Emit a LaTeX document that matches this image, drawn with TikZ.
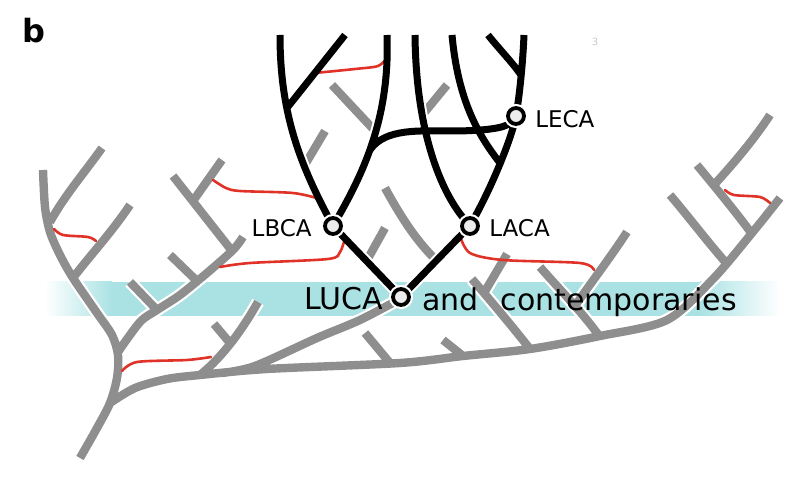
\documentclass[tikz,border=0pt]{standalone}
\usepackage{fontspec}
\setmainfont{DejaVu Sans}
\usepackage{tikz}
\usetikzlibrary{
  positioning,
  backgrounds
}
\definecolor{graycolor}{RGB}{142, 142, 142}
\definecolor{transfercolor}{RGB}{225, 50, 40}
\definecolor{bandcolor}{RGB}{170, 226, 228}
\definecolor{nodefillcolor}{RGB}{236, 236, 236}
\definecolor{labelcolor}{RGB}{0, 0, 0}
\definecolor{faintcolor}{RGB}{200, 200, 200}
\tikzset{
grayline/.style={
  draw=graycolor,
  line width=4.2pt
},
grayhalo/.style={
  draw=white,
  line width=6.4pt
},
blackline/.style={
  draw=black,
  line width=3.5pt
},
blackhalo/.style={
  draw=white,
  line width=5.5pt
},
transferline/.style={
  draw=transfercolor,
  line width=1.3pt,
  line cap=round
},
ancestornode/.style={
  circle,
  draw=black,
  line width=1.9pt,
  fill=nodefillcolor,
  minimum size=8pt,
  inner sep=0pt,
  preaction={draw=white, line width=4pt}
},
ancestorlabel/.style={
  font=\fontsize{11.5}{13}\selectfont,
  text=labelcolor,
  inner sep=1pt
},
bandlabel/.style={
  font=\fontsize{15}{18}\selectfont,
  text=labelcolor,
  inner sep=1pt
},
panellabel/.style={
  font=\fontsize{16}{19}\selectfont\bfseries,
  text=labelcolor
}
}
% gray tree (ancient lineages)
\newcommand{\graytree}{
  plot[smooth] coordinates {(43,170) (45,207) (50,232) (60,255) (73,278) (97,313) (112,335) (118,355) (117,378) (110,403) (97,428) (80,458)}
  (50,222) .. controls (65,195) and (85,172) .. (102,148)
  (73,278) .. controls (88,258) and (112,232) .. (130,205)
  plot[smooth] coordinates {(110,403) (135,388) (167,379) (200,375) (267,369) (400,363) (463,356) (530,349) (600,336) (667,320) (713,279) (752,233) (780,198)}
  (200,375) .. controls (225,355) and (245,325) .. (258,302)
  (230,343) -- (214,324)
  plot[smooth] coordinates {(222,373) (255,366) (317,338) (360,320) (398,300)}
  (390,363) -- (365,333)
  (463,356) -- (443,340)
  (530,349) .. controls (512,326) and (490,300) .. (472,279)
  (484,293) -- (507,254)
  (600,337) .. controls (582,312) and (560,290) .. (540,267)
  (575,306) .. controls (590,284) and (610,258) .. (627,232)
  (727,264) .. controls (706,240) and (688,216) .. (670,195)
  (752,234) .. controls (735,211) and (716,188) .. (697,165)
  (713,186) .. controls (735,162) and (755,138) .. (770,115)
  plot[smooth] coordinates {(118,352) (140,322) (157,310) (180,295) (207,273) (233,250) (243,237)}
  (157,310) -- (130,282)
  (197,281) -- (170,255)
  (232,251) -- (173,176)
  (193,201) -- (222,160)
  (332,85) -- (376,132)
  (325,131) -- (303,168)
  (447,85) -- (424,113)
  (385,188) .. controls (400,215) and (415,240) .. (438,262)
  (385,228) -- (366,262)
}
% black tree (LUCA descendants)
\newcommand{\blacktree}{
  (lbca) -- (luca)
  (laca) -- (luca)
  (lbca) .. controls (298,160) and (280,110) .. (top1)
  (jb) -- (top2)
  (lbca) .. controls (365,170) and (390,115) .. (top3)
  (jd) .. controls (385,128) and (420,131) .. (450,131) .. controls (485,131) and (505,128) .. (leca)
  (laca) .. controls (440,190) and (416,130) .. (top4)
  (top5) .. controls (458,100) and (478,135) .. (jg)
  (laca) .. controls (495,180) and (510,140) .. (leca)
  (leca) .. controls (520,90) and (523,60) .. (top6)
  (top7) .. controls (500,50) and (512,62) .. (ji)
}

\begin{document}
\begin{tikzpicture}[x=0.5pt, y=-0.5pt]
\useasboundingbox (0,0) rectangle (800,486);

% ============================================================================
% ANCESTORS
% ============================================================================
\node[ancestornode] (luca) at (401,297) {};
\node[ancestornode] (lbca) at (333,226) {};
\node[ancestornode] (laca) at (470,226) {};
\node[ancestornode] (leca) at (516,116) {};

\node[ancestorlabel, left=4.5pt of lbca, yshift=-1pt] (lbcatext) {LBCA};
\node[ancestorlabel, right=3.5pt of laca, yshift=-1pt] (lacatext) {LACA};
\node[ancestorlabel, right=3.5pt of leca, yshift=-1.5pt] (lecatext) {LECA};

\node[bandlabel, left=3pt of luca, yshift=-1pt] (lucatext) {LUCA};
\node[bandlabel, right=4.5pt of luca, yshift=-1pt] (andtext) {and};
\node[bandlabel, right=8.5pt of andtext.base east, anchor=base west] (contemptext) {contemporaries};

\node[panellabel] (panel) at (34,31) {b};
\node[font=\fontsize{5}{6}\selectfont, text=faintcolor] (pagenum) at (595,42) {3};

% top ends and junctions
\coordinate (top1) at (280,35);
\coordinate (top2) at (345,35);
\coordinate (top3) at (387,35);
\coordinate (top4) at (415,35);
\coordinate (top5) at (452,35);
\coordinate (top6) at (524,35);
\coordinate (top7) at (488,35);
\coordinate (jb) at (287,108);
\coordinate (jd) at (370,150);
\coordinate (jg) at (500,163);
\coordinate (ji) at (521,75);

% ============================================================================
% TREES
% ============================================================================
\begin{scope}[on background layer]
  % band
  \fill[bandcolor] (110,282) rectangle (702,316);
  \shade[left color=white, right color=bandcolor] (45,282) rectangle (112,316);
  \shade[left color=bandcolor, right color=white] (700,282) rectangle (780,316);

  % gray lineages
  \begin{scope}
    \clip (45,282) rectangle (780,316);
    \draw[grayhalo] \graytree;
  \end{scope}
  \draw[grayline] \graytree;

  \draw[blackhalo] \blacktree;

  % gene transfers
  \draw[transferline] plot[smooth] coordinates {(387,58) (378,66) (355,69) (315,73)};
  \draw[transferline] plot[smooth] coordinates {(213,180) (226,188) (240,191) (293,193) (320,199)};
  \draw[transferline] plot[smooth] coordinates {(345,238) (340,252) (328,259) (250,263) (220,267)};
  \draw[transferline] plot[smooth] coordinates {(54,229) (63,235) (88,237) (96,241)};
  \draw[transferline] plot[smooth] coordinates {(122,371) (137,362) (187,360) (211,357)};
  \draw[transferline] plot[smooth] coordinates {(460,236) (470,253) (503,260) (580,263) (594,270)};
  \draw[transferline] plot[smooth] coordinates {(725,190) (734,195) (760,197) (770,203)};

  \draw[blackline] \blacktree;
\end{scope}

\end{tikzpicture}
\end{document}
